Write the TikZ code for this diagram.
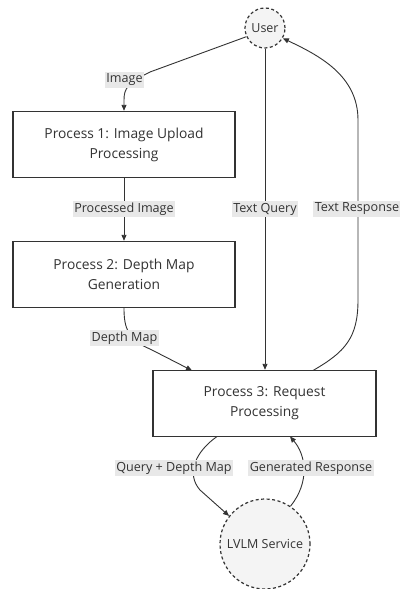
\documentclass[tikz,border=0pt]{standalone}
\usepackage{fontspec}
\setmainfont{Open Sans}
\usetikzlibrary{arrows.meta}
\definecolor{ink}{HTML}{333333}
\definecolor{txt}{HTML}{333333}
\definecolor{lblbg}{HTML}{E8E8E8}
\definecolor{bubble}{HTML}{F4F4F4}
\begin{document}
\begin{tikzpicture}[x=1pt,y=-1pt,
  font=\fontsize{12.5}{20}\selectfont,
  procbox/.style={draw=ink,line width=1.4pt,fill=white,text=txt,align=center,
    minimum width=222pt,minimum height=66pt,inner sep=0pt,
    font=\fontsize{13.8}{20}\selectfont},
  actor/.style={circle,draw=ink,dashed,line width=1.2pt,fill=bubble,text=txt,
    inner sep=0pt,dash pattern=on 3pt off 2.5pt},
  flow/.style={draw=ink,line width=0.9pt,-{Triangle[length=6pt,width=5pt]}},
  tag/.style={fill=lblbg,text=txt,inner xsep=1.5pt,inner ysep=2pt,font=\fontsize{12.6}{14}\selectfont}]
\useasboundingbox (0,0) rectangle (399,589);
\fill[white] (0,0) rectangle (399,589);

% nodes
\node[actor,minimum size=40pt] (user) at (265,28) {User};
\node[procbox] (p1) at (124,144.5) {Process 1: Image Upload\\Processing};
\node[procbox] (p2) at (124,274.5) {Process 2: Depth Map\\Generation};
\node[procbox,minimum width=223pt] (p3) at (264.5,403.5) {Process 3: Request\\Processing};
\node[actor,minimum size=90pt] (lvlm) at (265,544) {LVLM Service};

% attachment points on the request box
\coordinate (p3in) at (192,370.5);
\coordinate (p3out) at (313,370.5);
\coordinate (p3q) at (217,436.5);
\coordinate (p3r) at (290,436.5);

% connectors
\draw[flow] (user.205) -- (150,72) .. controls (128,83) and (124,88) .. (124,100) -- (p1.north);
\draw[flow] (p1.south) -- (p2.north);
\draw[flow] (p2.south) .. controls (124,328) and (128,340) .. (150,349) -- (p3in);
\draw[flow] (user.south) -- (user.south |- p3.north);
\draw[flow] (p3out) .. controls (345,352) and (358,338) .. (358,300) -- (358,120)
  .. controls (358,75) and (318,55) .. (user.-30);
\draw[flow] (p3q) .. controls (195,452) and (186,474) .. (200,490) -- (lvlm.142);
\draw[flow] (lvlm.56) .. controls (310,482) and (306,455) .. (p3r);

% edge labels
\node[tag] (limg) at (124.5,80) {Image};
\node[tag] (lproc) at (124,209) {Processed Image};
\node[tag] (lqry) at (265,209) {Text Query};
\node[tag] (lresp) at (357,209) {Text Response};
\node[tag] (ldep) at (124.5,338) {Depth Map};
\node[tag] (lqd) at (174,468) {Query + Depth Map};
\node[tag] (lgen) at (311,468) {Generated Response};
\end{tikzpicture}
\end{document}
